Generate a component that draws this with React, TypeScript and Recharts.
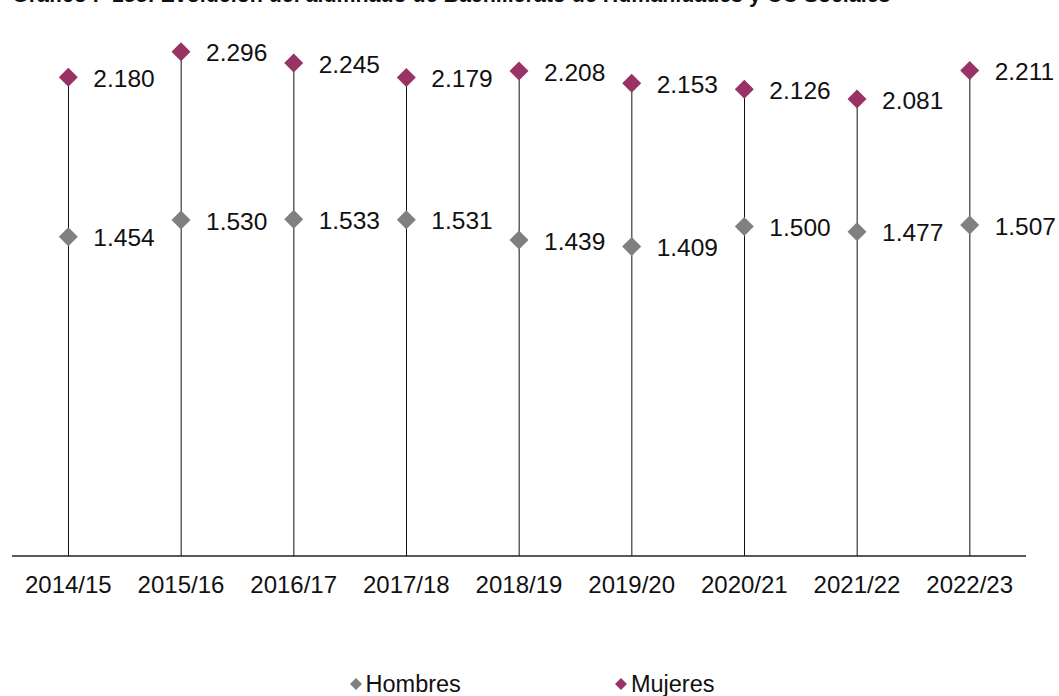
import { ComposedChart, Bar, Line, XAxis, YAxis, LabelList, Legend } from 'recharts'

const years = ['2014/15', '2015/16', '2016/17', '2017/18', '2018/19', '2019/20', '2020/21', '2021/22', '2022/23']
const hombres = [1454, 1530, 1533, 1531, 1439, 1409, 1500, 1477, 1507]
const mujeres = [2180, 2296, 2245, 2179, 2208, 2153, 2126, 2081, 2211]
const seriesNames = ['Hombres', 'Mujeres']

const title = 'Gráfico I- 155: Evolución del alumnado de Bachillerato de Humanidades y CC Sociales'

const FONT = '"Liberation Sans", Arial, sans-serif'
const GRAY = '#808080'
const PLUM = '#993366'

const data = years.map((year, i) => ({
  year,
  hombres: hombres[i],
  mujeres: mujeres[i],
}))

const fmt = (v: number) => (v / 1000).toFixed(3)

const Diamond = (props: any) => {
  const { cx, cy, fill } = props
  if (cx == null || cy == null) return null
  const r = 9.5
  return <polygon points={`${cx},${cy - r} ${cx + r},${cy} ${cx},${cy + r} ${cx - r},${cy}`} fill={fill} />
}

const PointLabel = (props: any) => {
  const { x, y, value } = props
  return (
    <text x={x + 25} y={y + 1} dy="0.355em" fontSize={24.5} fill="#111" fontFamily={FONT}>
      {fmt(value)}
    </text>
  )
}

const LegendContent = () => {
  const colors = [GRAY, PLUM]
  return (
    <div
      style={{
        display: 'flex',
        justifyContent: 'center',
        gap: 152,
        paddingLeft: 24,
        fontFamily: FONT,
        fontSize: 23.5,
        lineHeight: '24px',
        color: '#111',
      }}
    >
      {seriesNames.map((name, i) => (
        <div key={name} style={{ display: 'flex', alignItems: 'center' }}>
          <svg width={16} height={16} style={{ marginRight: 2 }}>
            <polygon points="8,2 14,8 8,14 2,8" fill={colors[i]} />
          </svg>
          <span>{name}</span>
        </div>
      ))}
    </div>
  )
}

export default function App() {
  return (
    <div style={{ position: 'absolute', left: 0, top: 0, width: 1059, height: 696, overflow: 'hidden', background: '#fff' }}>
      <ComposedChart width={1059} height={696} data={data} margin={{ top: 7, right: 33, left: 12, bottom: 0 }}>
        <XAxis
          dataKey="year"
          height={116}
          tickLine={false}
          tickSize={0}
          tickMargin={20}
          axisLine={{ stroke: '#222', strokeWidth: 1.5 }}
          tick={{ fontSize: 24, fill: '#111', fontFamily: FONT }}
          interval={0}
        />
        <YAxis hide domain={[0, 2500]} />
        <Legend verticalAlign="bottom" height={24} content={<LegendContent />} />
        <Bar dataKey="mujeres" barSize={1} fill="#111" isAnimationActive={false} legendType="none" />
        <Line
          dataKey="hombres"
          name={seriesNames[0]}
          stroke="none"
          fill={GRAY}
          dot={<Diamond fill={GRAY} />}
          activeDot={false}
          isAnimationActive={false}
        >
          <LabelList dataKey="hombres" content={<PointLabel />} />
        </Line>
        <Line
          dataKey="mujeres"
          name={seriesNames[1]}
          stroke="none"
          fill={PLUM}
          dot={<Diamond fill={PLUM} />}
          activeDot={false}
          isAnimationActive={false}
        >
          <LabelList dataKey="mujeres" content={<PointLabel />} />
        </Line>
      </ComposedChart>
      <div
        style={{
          position: 'absolute',
          left: 12,
          top: -14.8,
          fontFamily: FONT,
          fontWeight: 'bold',
          fontSize: 21.4,
          lineHeight: '21px',
          whiteSpace: 'nowrap',
          color: '#111',
        }}
      >
        {title}
      </div>
    </div>
  )
}
